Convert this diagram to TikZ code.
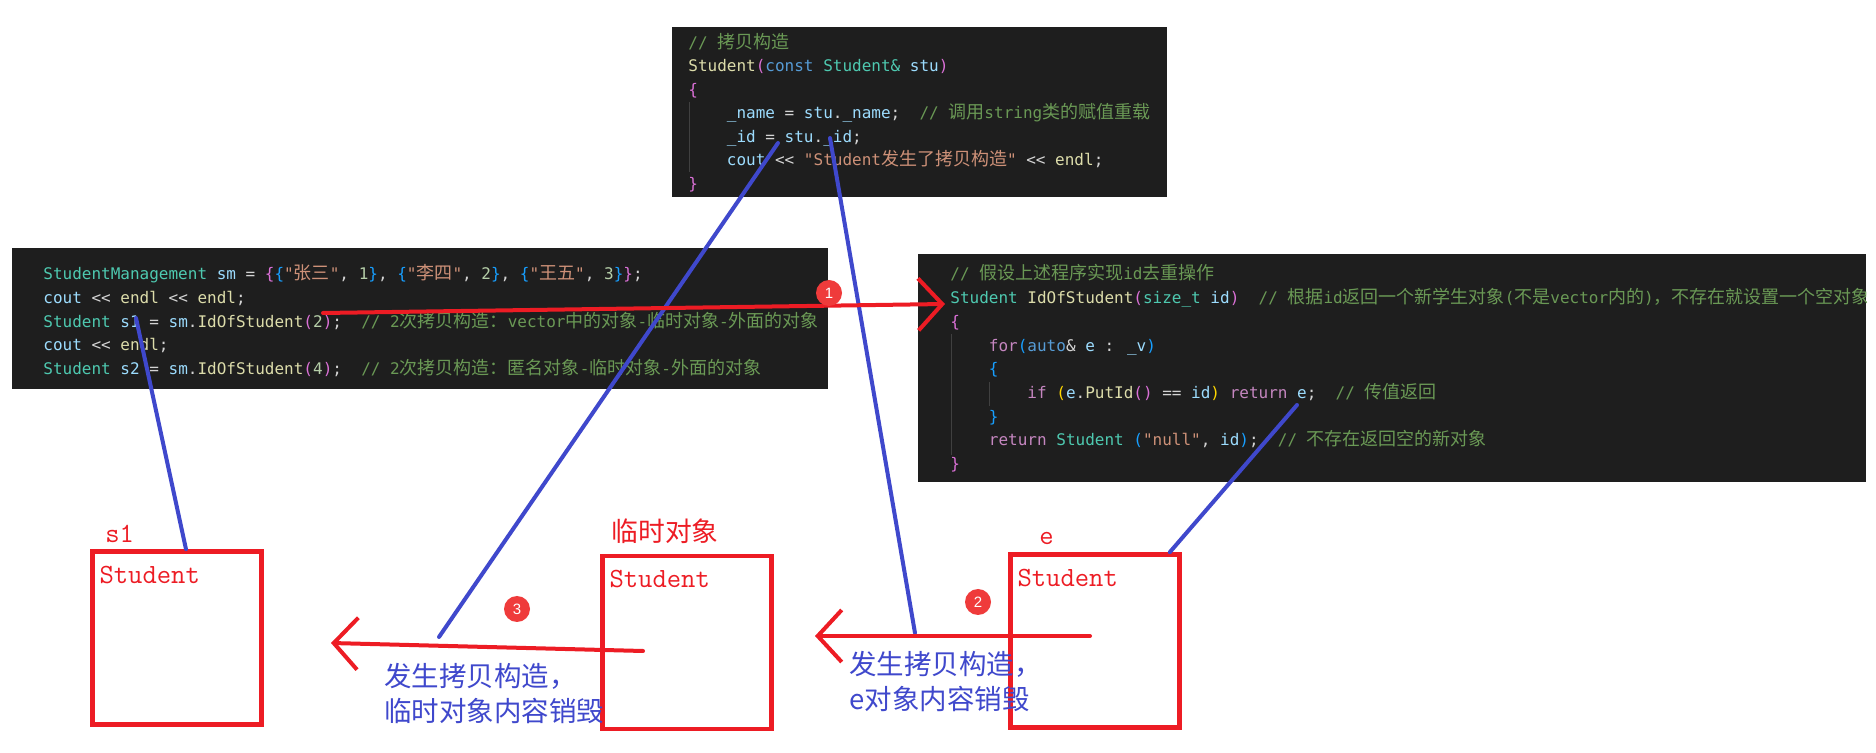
\documentclass[tikz,border=0pt]{standalone}
\usepackage{fontspec}
\newfontfamily\codefont{DejaVu Sans Mono}
\newfontfamily\zhfont{Noto Sans CJK SC}
\newfontfamily\numfont{Liberation Sans}
\usetikzlibrary{positioning, arrows.meta, calc}

% editor colours
\definecolor{vsBg}{HTML}{1E1E1E}
\definecolor{vsText}{HTML}{D4D4D4}
\definecolor{vsCom}{HTML}{6A9955}
\definecolor{vsType}{HTML}{4EC9B0}
\definecolor{vsKey}{HTML}{569CD6}
\definecolor{vsVar}{HTML}{9CDCFE}
\definecolor{vsFun}{HTML}{DCDCAA}
\definecolor{vsStr}{HTML}{CE9178}
\definecolor{vsNum}{HTML}{B5CEA8}
\definecolor{vsCtl}{HTML}{C586C0}
\definecolor{vsGold}{HTML}{FFD700}
\definecolor{vsOrchid}{HTML}{DA70D6}
\definecolor{vsBlue}{HTML}{179FFF}
\definecolor{vsGuide}{HTML}{404040}
% pen colours
\definecolor{penRed}{HTML}{ED1C24}
\definecolor{penBlue}{HTML}{3F48CC}
\definecolor{tagRed}{HTML}{EF3B3B}

\newcommand\zh[1]{{\zhfont\fontsize{9}{9}\selectfont #1}}
\newcommand\cCom[1]{\textcolor{vsCom}{#1}}
\newcommand\cTy[1]{\textcolor{vsType}{#1}}
\newcommand\cKw[1]{\textcolor{vsKey}{#1}}
\newcommand\cVar[1]{\textcolor{vsVar}{#1}}
\newcommand\cFn[1]{\textcolor{vsFun}{#1}}
\newcommand\cStr[1]{\textcolor{vsStr}{#1}}
\newcommand\cNum[1]{\textcolor{vsNum}{#1}}
\newcommand\cCtl[1]{\textcolor{vsCtl}{#1}}
\newcommand\cBa[1]{\textcolor{vsGold}{#1}}
\newcommand\cBb[1]{\textcolor{vsOrchid}{#1}}
\newcommand\cBc[1]{\textcolor{vsBlue}{#1}}
\newcommand\shl{<\kern0pt<}

\tikzset{
    codebox/.style={fill=vsBg, inner sep=0pt},
    codeline/.style={font={\codefont\fontsize{8}{9.6}\selectfont}, text=vsText, inner sep=0pt, anchor=base west},
    guide/.style={draw=vsGuide, line width=0.5pt},
    objbox/.style={draw=penRed, line width=2.3pt, minimum width=84.5pt, minimum height=86.5pt, inner sep=0pt},
    objname/.style={font={\ttfamily\fontsize{13.9}{14}\selectfont}, text=penRed, inner sep=0pt, anchor=base west},
    objtag/.style={font={\zhfont\fontsize{13.4}{14}\selectfont}, text=penRed, inner sep=0pt, anchor=base west},
    note/.style={font={\zhfont\fontsize{13.75}{17.5}\selectfont\lineskiplimit=-50pt}, text=penBlue, inner sep=0pt, align=left, anchor=west},
    link/.style={draw=penBlue, line width=2pt, line cap=round},
    redarrow/.style={draw=penRed, line width=2pt, line cap=round, -{Straight Barb[length=12pt, width=26pt]}},
    tag/.style={circle, fill=tagRed, text=white, font={\numfont\fontsize{7.5}{8}\selectfont}, minimum size=13pt, inner sep=0pt}
}

\begin{document}
\begin{tikzpicture}[x=0.5pt, y=-0.5pt]
    \path[use as bounding box, fill=white] (0,0) rectangle (1876,753);

    % copy constructor
    \node[codebox, minimum width=247.5pt, minimum height=85pt] (ctor) at (919.5,112) {};
    \draw[guide] (689,102) -- (689,172);
    \node[codeline] (ctor1) at (688,48.5) {\cCom{// \zh{拷贝构造}}};
    \node[codeline] (ctor2) at (688,72) {\cFn{Student}\cBb{(}\cKw{const} \cTy{Student\&} \cVar{stu}\cBb{)}};
    \node[codeline] (ctor3) at (688,95.5) {\cBb{\{}};
    \node[codeline] (ctor4) at (688,119) {~~~~\cVar{\_name} = \cVar{stu}.\cVar{\_name};~ \cCom{// \zh{调用}string\zh{类的赋值重载}}};
    \node[codeline] (ctor5) at (688,142.5) {~~~~\cVar{\_id} = \cVar{stu}.\cVar{\_id};};
    \node[codeline] (ctor6) at (688,166) {~~~~\cVar{cout} \shl{} \cStr{"Student\zh{发生了拷贝构造}"} \shl{} \cFn{endl};};
    \node[codeline] (ctor7) at (688,189.5) {\cBb{\}}};

    % caller
    \node[codebox, minimum width=408pt, minimum height=70.5pt] (caller) at (420,318.5) {};
    \node[codeline] (call1) at (43,280) {\cTy{StudentManagement} \cVar{sm} = \cBb{\{}\cBc{\{}\cStr{"\zh{张三}"}, \cNum{1}\cBc{\}}, \cBc{\{}\cStr{"\zh{李四}"}, \cNum{2}\cBc{\}}, \cBc{\{}\cStr{"\zh{王五}"}, \cNum{3}\cBc{\}}\cBb{\}};};
    \node[codeline] (call2) at (43,304) {\cVar{cout} \shl{} \cFn{endl} \shl{} \cFn{endl};};
    \node[codeline] (call3) at (43,327.5) {\cTy{Student} \cVar{s1} = \cVar{sm}.\cFn{IdOfStudent}\cBb{(}\cNum{2}\cBb{)};~ \cCom{// 2\zh{次拷贝构造：}vector\zh{中的对象}-\zh{临时对象}-\zh{外面的对象}}};
    \node[codeline] (call4) at (43,351) {\cVar{cout} \shl{} \cFn{endl};};
    \node[codeline] (call5) at (43,374.5) {\cTy{Student} \cVar{s2} = \cVar{sm}.\cFn{IdOfStudent}\cBb{(}\cNum{4}\cBb{)};~ \cCom{// 2\zh{次拷贝构造：匿名对象}-\zh{临时对象}-\zh{外面的对象}}};

    % lookup function
    \node[codebox, minimum width=474pt, minimum height=114pt] (lookup) at (1392,368) {};
    \begin{scope}
        \clip (lookup.north west) rectangle (lookup.south east);
        \draw[guide] (951,334) -- (951,455);
        \draw[guide] (989.5,382) -- (989.5,406);
        \node[codeline] (find1) at (950,280) {\cCom{// \zh{假设上述程序实现}id\zh{去重操作}}};
        \node[codeline] (find2) at (950,303.7) {\cTy{Student} \cFn{IdOfStudent}\cBb{(}\cTy{size\_t} \cVar{id}\cBb{)}~ \cCom{// \zh{根据}id\zh{返回一个新学生对象}(\zh{不是}vector\zh{内的})\zh{，不存在就设置一个空对象}}};
        \node[codeline] (find3) at (950,327.4) {\cBb{\{}};
        \node[codeline] (find4) at (950,351.1) {~~~~\cCtl{for}\cBc{(}\cKw{auto}\& \cVar{e} : \cVar{\_v}\cBc{)}};
        \node[codeline] (find5) at (950,374.8) {~~~~\cBc{\{}};
        \node[codeline] (find6) at (950,398.5) {~~~~~~~~\cCtl{if} \cBa{(}\cVar{e}.\cFn{PutId}\cBb{()} == \cVar{id}\cBa{)} \cCtl{return} \cVar{e};~ \cCom{// \zh{传值返回}}};
        \node[codeline] (find7) at (950,422.2) {~~~~\cBc{\}}};
        \node[codeline] (find8) at (950,445.9) {~~~~\cCtl{return} \cTy{Student} \cBc{(}\cStr{"null"}, \cVar{id}\cBc{)};~ \cCom{// \zh{不存在返回空的新对象}}};
        \node[codeline] (find9) at (950,469.6) {\cBb{\}}};
    \end{scope}

    % objects
    \node[objbox] (s1box) at (177,638) {};
    \node[objbox] (tmpbox) at (687,642.5) {};
    \node[objbox] (ebox) at (1095,641) {};
    \node[objname] (s1tag) at (105,543) {s1};
    \node[objtag] (tmptag) at (611,542) {临时对象};
    \node[objname] (etag) at (1039,545) {e};
    \node[objname] (s1cls) at ($(s1box.north west)+(9,34)$) {Student};
    \node[objname] (tmpcls) at ($(tmpbox.north west)+(9,34)$) {Student};
    \node[objname] (ecls) at ($(ebox.north west)+(9,34)$) {Student};

    \node[note] (tmpnote) at (384,694) {发生拷贝构造，\\临时对象内容销毁};
    \node[note] (enote) at (849,682) {发生拷贝构造，\\e对象内容销毁};

    % pen marks
    \coordinate (s1use) at (136,318);
    \coordinate (nameuse) at (778,143);
    \coordinate (iduse) at (830,138);
    \coordinate (retuse) at (1297,405);
    \coordinate (copy3) at (439,637);
    \coordinate (copy2) at (915,633);
    \draw[link] (s1use) -- ($(s1box.north)+(9,0)$);
    \draw[link] (nameuse) -- (copy3);
    \draw[link] (iduse) -- (copy2);
    \draw[link] (retuse) -- ($(ebox.north east)+(-12,0)$);

    \coordinate (callsite) at (323,313);
    \coordinate (lookuphead) at (945,304);
    \coordinate (eout) at (1090,636);
    \coordinate (tmpin) at (815,636);
    \coordinate (tmpout) at (643,651);
    \coordinate (s1in) at (331,643);
    \draw[redarrow] (callsite) -- (lookuphead);
    \draw[redarrow] (eout) -- (tmpin);
    \draw[redarrow] (tmpout) -- (s1in);

    \node[tag] (step1) at (829,293) {1};
    \node[tag] (step2) at (978,602) {2};
    \node[tag] (step3) at (517,609) {3};
\end{tikzpicture}
\end{document}
